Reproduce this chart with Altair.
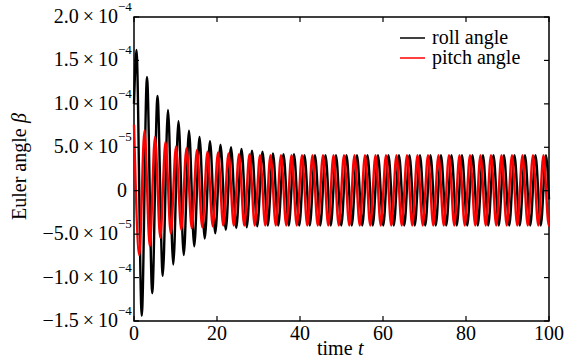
import altair as alt
import pandas as pd

# ---- data (values in units of 1e-4) ----
roll_start = (0.0, 1.00)
roll_peak_t = [0.60, 3.13, 5.66, 8.19, 10.72, 13.25, 15.78, 18.31, 20.84, 23.37,
               25.90, 28.43, 30.96, 33.49, 36.02, 38.55, 41.08, 43.61, 46.14, 48.67,
               51.20, 53.73, 56.26, 58.79, 61.32, 63.85, 66.38, 68.91, 71.44, 73.97,
               76.50, 79.03, 81.56, 84.09, 86.62, 89.15, 91.68, 94.21, 96.74, 99.27]
roll_peak_v = [1.62, 1.31, 1.09, 0.93, 0.80, 0.69, 0.62, 0.57, 0.53, 0.50,
               0.48, 0.46, 0.45, 0.43, 0.42, 0.42, 0.41, 0.41, 0.41, 0.41,
               0.41, 0.41, 0.41, 0.41, 0.41, 0.41, 0.41, 0.41, 0.41, 0.41,
               0.41, 0.41, 0.41, 0.41, 0.41, 0.41, 0.41, 0.41, 0.41, 0.41]
roll_trough_t = [1.87, 4.40, 6.93, 9.46, 11.99, 14.52, 17.05, 19.58, 22.11, 24.64,
                 27.17, 29.70, 32.23, 34.76, 37.29, 39.82, 42.35, 44.88, 47.41, 49.94,
                 52.47, 55.00, 57.53, 60.06, 62.59, 65.12, 67.65, 70.18, 72.71, 75.24,
                 77.77, 80.30, 82.83, 85.36, 87.89, 90.42, 92.95, 95.48, 98.01]
roll_trough_v = [-1.44, -1.18, -0.98, -0.85, -0.74, -0.64, -0.55, -0.49, -0.45, -0.43,
                 -0.42, -0.41, -0.40, -0.40, -0.40, -0.40, -0.40, -0.40, -0.40, -0.40,
                 -0.40, -0.40, -0.40, -0.40, -0.40, -0.40, -0.40, -0.40, -0.40, -0.40,
                 -0.40, -0.40, -0.40, -0.40, -0.40, -0.40, -0.40, -0.40, -0.40]
roll_end = (100.0, -0.10)

pitch_peak_t = [0.00, 2.53, 5.06, 7.59, 10.12, 12.65, 15.18, 17.71, 20.24, 22.77,
                25.30, 27.83, 30.36, 32.89, 35.42, 37.95, 40.48, 43.01, 45.54, 48.07,
                50.60, 53.13, 55.66, 58.19, 60.72, 63.25, 65.78, 68.31, 70.84, 73.37,
                75.90, 78.43, 80.96, 83.49, 86.02, 88.55, 91.08, 93.61, 96.14, 98.67]
pitch_peak_v = [0.76, 0.69, 0.62, 0.56, 0.51, 0.49, 0.47, 0.45, 0.44, 0.43,
                0.42, 0.42, 0.41, 0.41, 0.41, 0.41, 0.41, 0.41, 0.41, 0.41,
                0.41, 0.41, 0.41, 0.41, 0.41, 0.41, 0.41, 0.41, 0.41, 0.41,
                0.41, 0.41, 0.41, 0.41, 0.41, 0.41, 0.41, 0.41, 0.41, 0.41]
pitch_trough_t = [1.27, 3.80, 6.33, 8.86, 11.39, 13.92, 16.45, 18.98, 21.51, 24.04,
                  26.57, 29.10, 31.63, 34.16, 36.69, 39.22, 41.75, 44.28, 46.81, 49.34,
                  51.87, 54.40, 56.93, 59.46, 61.99, 64.52, 67.05, 69.58, 72.11, 74.64,
                  77.17, 79.70, 82.23, 84.76, 87.29, 89.82, 92.35, 94.88, 97.41, 99.94]
pitch_trough_v = [-0.74, -0.64, -0.54, -0.49, -0.45, -0.43, -0.42, -0.41, -0.40, -0.40,
                  -0.40, -0.40, -0.40, -0.40, -0.40, -0.40, -0.40, -0.40, -0.40, -0.40,
                  -0.40, -0.40, -0.40, -0.40, -0.40, -0.40, -0.40, -0.40, -0.40, -0.40,
                  -0.40, -0.40, -0.40, -0.40, -0.40, -0.40, -0.40, -0.40, -0.40, -0.40]
pitch_end = (100.0, -0.40)

series_names = ["roll angle", "pitch angle"]
series_colors = ["#000000", "#ff0000"]

x_ticks = [0, 20, 40, 60, 80, 100]
x_tick_labels = ["0", "20", "40", "60", "80", "100"]
y_ticks = [-1.5e-4, -1.0e-4, -5.0e-5, 0.0, 5.0e-5, 1.0e-4, 1.5e-4, 2.0e-4]
y_tick_main = ["\u22121.5\u2009\u00d7\u200910", "\u22121.0\u2009\u00d7\u200910",
               "\u22125.0\u2009\u00d7\u200910", "0",
               "5.0\u2009\u00d7\u200910", "1.0\u2009\u00d7\u200910",
               "1.5\u2009\u00d7\u200910", "2.0\u2009\u00d7\u200910"]
y_tick_exp = ["\u22124", "\u22124", "\u22125", "", "\u22125", "\u22124", "\u22124", "\u22124"]

x_title = ["time ", "t"]
y_title = ["Euler angle ", "\u03b2"]

SCALE = 1e-4


def build(name, start, pt, pv, tt, tv, end):
    rows = []
    if start is not None:
        rows.append((start[0], start[1]))
    for i in range(len(pt)):
        rows.append((pt[i], pv[i]))
        if i < len(tt):
            rows.append((tt[i], tv[i]))
    rows.append(end)
    rows.sort(key=lambda r: r[0])
    return pd.DataFrame({"t": [r[0] for r in rows],
                         "beta": [r[1] * SCALE for r in rows],
                         "series": name})


roll_df = build(series_names[0], roll_start, roll_peak_t, roll_peak_v,
                roll_trough_t, roll_trough_v, roll_end)
pitch_df = build(series_names[1], None, pitch_peak_t, pitch_peak_v,
                 pitch_trough_t, pitch_trough_v, pitch_end)

W, H = 415, 304
FONT = "Liberation Serif"
LW = 2.4
FS = 20

xscale = alt.Scale(domain=[0, 100], nice=False, zero=False)
yscale = alt.Scale(domain=[-1.5e-4, 2.0e-4], nice=False, zero=False)
color = alt.Color("series:N",
                  scale=alt.Scale(domain=series_names, range=series_colors),
                  legend=None)

roll = alt.Chart(roll_df).mark_line(interpolate="monotone", strokeWidth=LW).encode(
    x=alt.X("t:Q", scale=xscale, axis=None),
    y=alt.Y("beta:Q", scale=yscale, axis=None),
    color=color)
pitch = alt.Chart(pitch_df).mark_line(interpolate="monotone", strokeWidth=LW).encode(
    x="t:Q", y="beta:Q", color=color)

xt = pd.DataFrame({"t": x_ticks, "lab": x_tick_labels})
yt = pd.DataFrame({"beta": y_ticks, "main": y_tick_main, "exp": y_tick_exp})
tick_len = 5
ticks = [
    alt.Chart(xt).mark_rule(color="black", strokeWidth=1.2).encode(
        x="t:Q", y=alt.value(H), y2=alt.value(H - tick_len)),
    alt.Chart(xt).mark_rule(color="black", strokeWidth=1.2).encode(
        x="t:Q", y=alt.value(0), y2=alt.value(tick_len)),
    alt.Chart(yt).mark_rule(color="black", strokeWidth=1.2).encode(
        y="beta:Q", x=alt.value(0), x2=alt.value(tick_len)),
    alt.Chart(yt).mark_rule(color="black", strokeWidth=1.2).encode(
        y="beta:Q", x=alt.value(W), x2=alt.value(W - tick_len)),
]

txt = dict(font=FONT, color="black")
labels = [
    alt.Chart(xt).mark_text(fontSize=FS, baseline="top", align="center", **txt).encode(
        x="t:Q", y=alt.value(H + 3), text="lab:N"),
    alt.Chart(yt).transform_filter("datum.exp != ''").mark_text(
        fontSize=FS, baseline="middle", align="right", **txt).encode(
        y="beta:Q", x=alt.value(-16), text="main:N"),
    alt.Chart(yt).transform_filter("datum.exp == ''").mark_text(
        fontSize=FS, baseline="middle", align="right", **txt).encode(
        y="beta:Q", x=alt.value(-7), text="main:N"),
    alt.Chart(yt).transform_filter("datum.exp != ''").mark_text(
        fontSize=13, baseline="middle", align="left", dy=-10, **txt).encode(
        y="beta:Q", x=alt.value(-16), text="exp:N"),
]

# axis titles (plain word + italic symbol)
title_df = pd.DataFrame({"k": [0]})
titles = [
    alt.Chart(title_df).mark_text(fontSize=FS, baseline="alphabetic", align="left", **txt).encode(
        x=alt.value(183), y=alt.value(338), text=alt.value(x_title[0])),
    alt.Chart(title_df).mark_text(fontSize=FS, baseline="alphabetic", align="left",
                                  fontStyle="italic", **txt).encode(
        x=alt.value(224), y=alt.value(338), text=alt.value(x_title[1])),
    alt.Chart(title_df).mark_text(fontSize=FS, baseline="middle", align="left", angle=270,
                                  **txt).encode(
        x=alt.value(-114), y=alt.value(203), text=alt.value(y_title[0])),
    alt.Chart(title_df).mark_text(fontSize=FS, baseline="middle", align="left", angle=270,
                                  fontStyle="italic", **txt).encode(
        x=alt.value(-114), y=alt.value(106), text=alt.value(y_title[1])),
]

# legend
leg_y = [21, 41]
legend = []
for name, col, yy in zip(series_names, series_colors, leg_y):
    legend.append(alt.Chart(title_df).mark_rule(color=col, strokeWidth=1.5).encode(
        x=alt.value(266), x2=alt.value(291), y=alt.value(yy)))
    legend.append(alt.Chart(title_df).mark_text(fontSize=FS, baseline="middle", align="left",
                                                **txt).encode(
        x=alt.value(298), y=alt.value(yy), text=alt.value(name)))

chart = alt.layer(roll, pitch, *ticks, *labels, *titles, *legend).properties(
    width=W, height=H,
    autosize=alt.AutoSizeParams(type="none"),
    padding={"left": 134, "top": 17, "right": 17, "bottom": 37},
).configure(background="white").configure_view(stroke="black", strokeWidth=1.5)

chart.save("out.html", embed_options={"renderer": "svg", "actions": False})
